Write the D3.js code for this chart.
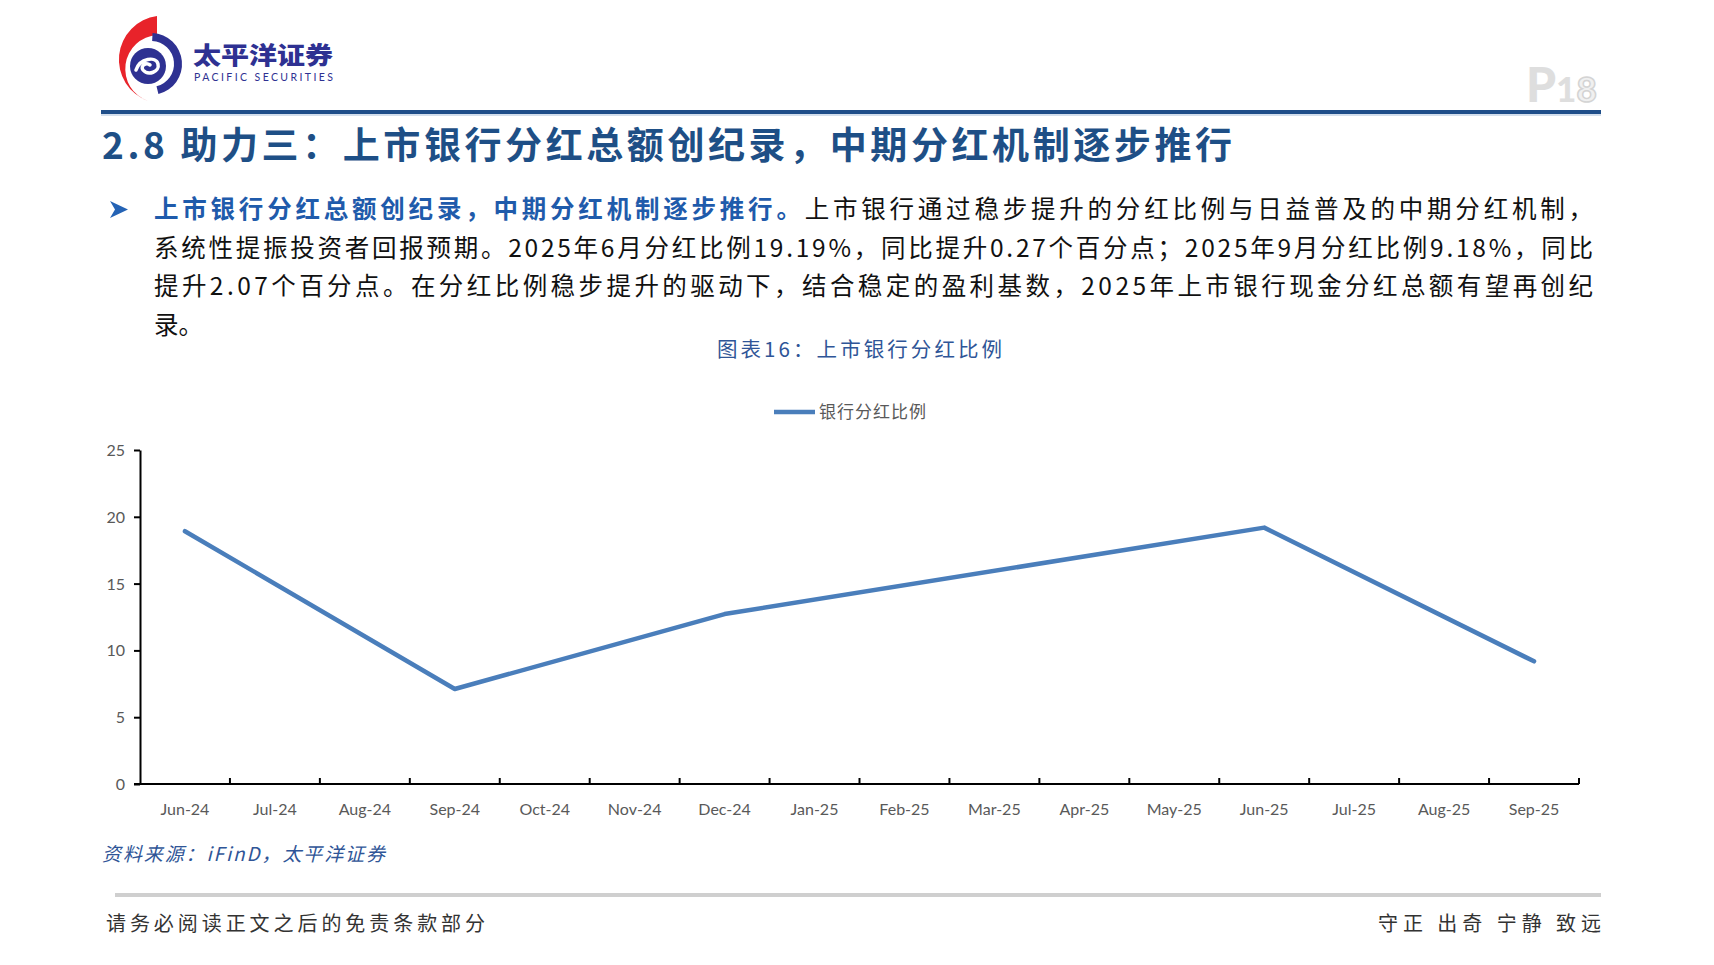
<!DOCTYPE html>
<html>
<head>
    <meta charset="utf-8">
    <title>上市银行分红比例</title>
    <script src="https://d3js.org/d3.v7.min.js"></script>
    <style>
        body, html {
            margin: 0;
            background: #fff;
            overflow: hidden;
        }
        text { font-family: "Noto Sans CJK SC", "Noto Sans", sans-serif; }
        .axis-label { font-family: Lato, "Noto Sans", sans-serif; font-size: 16px; fill: #595959; }
    </style>
</head>
<body>
<div id="page"></div>
<script>
    // chart data
    const months = ["Jun-24", "Jul-24", "Aug-24", "Sep-24", "Oct-24", "Nov-24", "Dec-24", "Jan-25",
                    "Feb-25", "Mar-25", "Apr-25", "May-25", "Jun-25", "Jul-25", "Aug-25", "Sep-25"];
    const payoutRatio = [18.92, null, null, 7.11, null, null, 12.72, null,
                         null, null, null, null, 19.19, null, null, 9.18];
    const yTicks = [0, 5, 10, 15, 20, 25];
    const seriesName = "银行分红比例";

    const paraLines = [
        [["上市银行分红总额创纪录，中期分红机制逐步推行。", true], ["上市银行通过稳步提升的分红比例与日益普及的中期分红机制，", false]],
        [["系统性提振投资者回报预期。2025年6月分红比例19.19%，同比提升0.27个百分点；2025年9月分红比例9.18%，同比", false]],
        [["提升2.07个百分点。在分红比例稳步提升的驱动下，结合稳定的盈利基数，2025年上市银行现金分红总额有望再创纪", false]],
        [["录。", false]]
    ];

    const W = 1714, H = 965;
    const svg = d3.select("#page").append("svg")
        .attr("width", W).attr("height", H)
        .attr("viewBox", `0 0 ${W} ${H}`);

    // ---- header: logo ----
    const logo = svg.append("g");
    logo.append("path") // red crescent
        .attr("d", "M157,16 A44,44 0 0,0 148,101 A34,34 0 0,1 157,35 Z")
        .attr("fill", "#e8232a");
    logo.append("path") // blue outer arc
        .attr("d", d3.arc()({innerRadius: 23, outerRadius: 31, startAngle: 0.05, endAngle: 2.9}))
        .attr("transform", "translate(151,64)")
        .attr("fill", "#2e3192");
    logo.append("circle")
        .attr("cx", 148).attr("cy", 66).attr("r", 18)
        .attr("fill", "#2e3192");
    logo.append("path") // white swirl
        .attr("d", "M136,70 C140,58 156,56 158,64 C160,72 148,76 143,70 C140,66 146,62 150,65")
        .attr("fill", "none").attr("stroke", "#fff").attr("stroke-width", 3.5)
        .attr("stroke-linecap", "round");
    svg.append("text")
        .attr("x", 193).attr("y", 64)
        .attr("textLength", 140).attr("lengthAdjust", "spacingAndGlyphs")
        .style("font-size", "24px").style("font-weight", 900).style("fill", "#2e3192")
        .text("太平洋证券");
    svg.append("text")
        .attr("x", 194).attr("y", 81)
        .attr("textLength", 139).attr("lengthAdjust", "spacing")
        .style("font-family", "Lato, sans-serif").style("font-size", "10.5px").style("fill", "#2e3192")
        .text("PACIFIC SECURITIES");

    // page number
    const pn = svg.append("text").attr("x", 1526).attr("y", 102)
        .style("font-family", "Lato, sans-serif").style("font-weight", 900);
    pn.append("tspan").style("font-size", "48px").style("fill", "#dedede").text("P");
    pn.append("tspan").style("font-size", "35px").style("fill", "#dedede").text("1");
    pn.append("tspan").style("font-size", "35px").style("fill", "#f0f0f0")
        .style("stroke", "#d4d4d4").style("stroke-width", 1.5).text("8");

    // header rule
    svg.append("line").attr("x1", 101).attr("x2", 1601).attr("y1", 112).attr("y2", 112)
        .attr("stroke", "#1f4e89").attr("stroke-width", 4);
    svg.append("line").attr("x1", 101).attr("x2", 1601).attr("y1", 115).attr("y2", 115)
        .attr("stroke", "#c5d3e6").attr("stroke-width", 1.5);

    // section title
    svg.append("text")
        .attr("x", 102).attr("y", 159)
        .attr("textLength", 1130).attr("lengthAdjust", "spacing")
        .style("font-size", "37px").style("font-weight", 700).style("fill", "#1e4f86")
        .text("2.8 助力三：上市银行分红总额创纪录，中期分红机制逐步推行");

    // bullet
    svg.append("path")
        .attr("d", "M110,201 L128,209.5 L110,218 L115,209.5 Z")
        .attr("fill", "#2463b5");

    // paragraph
    paraLines.forEach((parts, i) => {
        const t = svg.append("text")
            .attr("x", 154).attr("y", 218 + i * 38.5)
            .style("font-size", "24.5px");
        if (i < paraLines.length - 1) t.attr("textLength", 1439).attr("lengthAdjust", "spacing");
        parts.forEach(([s, strong]) => {
            t.append("tspan")
                .style("fill", strong ? "#1f5bab" : "#111")
                .style("font-weight", strong ? 700 : 400)
                .text(s);
        });
    });

    // chart caption
    svg.append("text")
        .attr("x", 717).attr("y", 357)
        .attr("textLength", 285).attr("lengthAdjust", "spacing")
        .style("font-size", "20.5px").style("fill", "#2f5597")
        .text("图表16：上市银行分红比例");

    // ---- chart ----
    const plot = {left: 140, right: 1579, top: 450, bottom: 784};
    const x = d3.scaleBand().domain(months).range([plot.left, plot.right]);
    const y = d3.scaleLinear().domain([0, 25]).range([plot.bottom, plot.top]);
    const lineColor = "#4a7ebb";

    // legend
    svg.append("line").attr("x1", 774).attr("x2", 815).attr("y1", 412).attr("y2", 412)
        .attr("stroke", lineColor).attr("stroke-width", 4.5);
    svg.append("text").attr("x", 819).attr("y", 418)
        .attr("textLength", 107).attr("lengthAdjust", "spacing")
        .style("font-size", "17px").style("fill", "#595959")
        .text(seriesName);

    // y axis
    const yAxis = svg.append("g")
        .attr("transform", `translate(${plot.left},0)`)
        .call(d3.axisLeft(y).tickValues(yTicks).tickSize(6).tickSizeOuter(0).tickPadding(9));
    yAxis.select(".domain").attr("stroke", "#000").attr("stroke-width", 2);
    yAxis.selectAll(".tick line").attr("stroke", "#000").attr("stroke-width", 2);
    yAxis.selectAll(".tick text").attr("class", "axis-label").attr("dy", "0.34em");

    // x axis: ticks sit between categories, pointing up
    const xAxis = svg.append("g");
    xAxis.append("line")
        .attr("x1", plot.left - 6).attr("x2", plot.right)
        .attr("y1", plot.bottom).attr("y2", plot.bottom)
        .attr("stroke", "#000").attr("stroke-width", 2);
    const bounds = months.map(m => x(m)).concat([x.range()[1]]);
    xAxis.selectAll(".xtick").data(bounds.slice(1)).join("line")
        .attr("class", "xtick")
        .attr("x1", d => d).attr("x2", d => d)
        .attr("y1", plot.bottom).attr("y2", plot.bottom - 6)
        .attr("stroke", "#000").attr("stroke-width", 2);
    xAxis.selectAll(".xlab").data(months).join("text")
        .attr("class", "axis-label")
        .attr("x", d => x(d) + x.bandwidth() / 2)
        .attr("y", plot.bottom + 31)
        .attr("text-anchor", "middle")
        .text(d => d);

    // series line (gaps are bridged, as in the source)
    const pts = months.map((m, i) => ({m: m, v: payoutRatio[i]})).filter(d => d.v != null);
    svg.append("path")
        .datum(pts)
        .attr("fill", "none")
        .attr("stroke", lineColor)
        .attr("stroke-width", 4.5)
        .attr("stroke-linejoin", "round")
        .attr("stroke-linecap", "round")
        .attr("d", d3.line().x(d => x(d.m) + x.bandwidth() / 2).y(d => y(d.v)));

    // ---- footer ----
    svg.append("text")
        .attr("x", 102).attr("y", 861)
        .attr("textLength", 283).attr("lengthAdjust", "spacing")
        .style("font-size", "19px").style("font-style", "italic").style("fill", "#2f5597")
        .text("资料来源：iFinD，太平洋证券");
    svg.append("line").attr("x1", 115).attr("x2", 1601).attr("y1", 895).attr("y2", 895)
        .attr("stroke", "#cfcfcf").attr("stroke-width", 4);
    svg.append("text")
        .attr("x", 106).attr("y", 931)
        .attr("textLength", 379).attr("lengthAdjust", "spacing")
        .style("font-size", "20px").style("fill", "#333")
        .text("请务必阅读正文之后的免责条款部分");
    svg.append("text")
        .attr("x", 1378).attr("y", 931)
        .attr("textLength", 223).attr("lengthAdjust", "spacing")
        .style("font-size", "20px").style("fill", "#333")
        .text("守正 出奇 宁静 致远");
</script>
</body>
</html>
